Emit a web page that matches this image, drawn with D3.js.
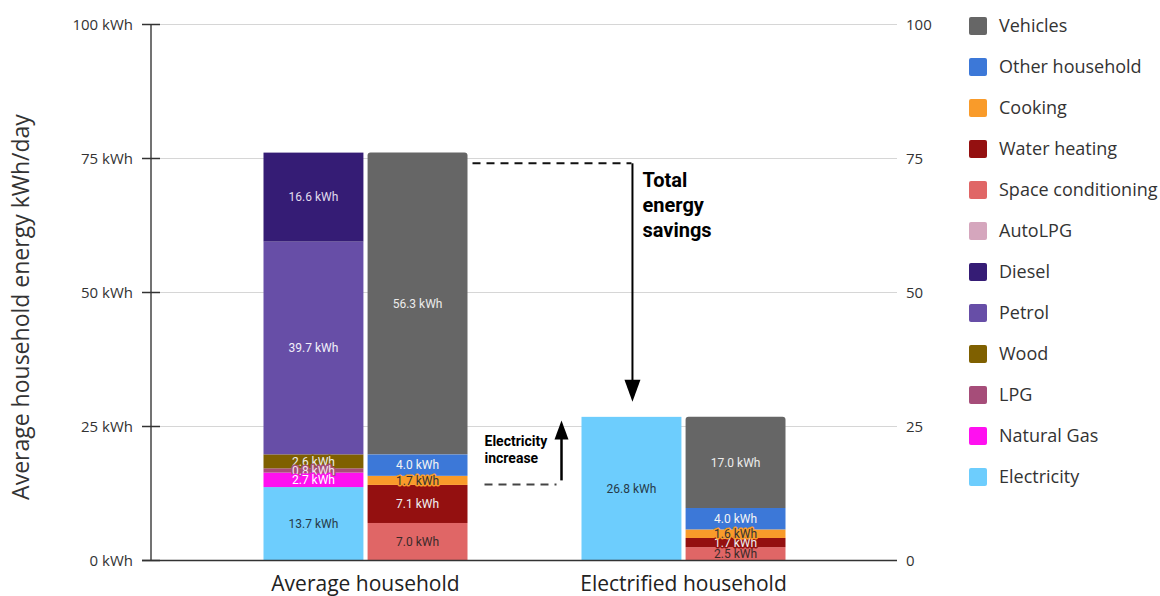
<!DOCTYPE html>
<html>
<head>
<meta charset="utf-8">
<script src="https://cdn.jsdelivr.net/npm/d3@7/dist/d3.min.js"></script>
<style>
  html, body { margin: 0; padding: 0; background: #fff; }
  svg { display: block; }
</style>
</head>
<body>
<svg id="chart" width="1160" height="596"></svg>
<script>
// ---------------- DATA ----------------
const categories = ["Average household", "Electrified household"];

// Fuel stack (bottom -> top)
const fuelSeries = ["Electricity", "Natural Gas", "LPG", "AutoLPG", "Wood", "Petrol", "Diesel"];
const fuelAverage = [13.7, 2.7, 0.8, 0.0, 2.6, 39.7, 16.6];
const fuelElectrified = [26.8, 0, 0, 0, 0, 0, 0];

// End-use stack (bottom -> top)
const useSeries = ["Space conditioning", "Water heating", "Cooking", "Other household", "Vehicles"];
const useAverage = [7.0, 7.1, 1.7, 4.0, 56.3];
const useElectrified = [2.5, 1.7, 1.6, 4.0, 17.0];

const legendOrder = ["Vehicles", "Other household", "Cooking", "Water heating", "Space conditioning",
  "AutoLPG", "Diesel", "Petrol", "Wood", "LPG", "Natural Gas", "Electricity"];

const yTicks = [0, 25, 50, 75, 100];
const leftTickLabels = ["0 kWh", "25 kWh", "50 kWh", "75 kWh", "100 kWh"];
const rightTickLabels = ["0", "25", "50", "75", "100"];
const yTitle = "Average household energy kWh/day";
const annotationTotal = ["Total", "energy", "savings"];
const annotationElec = ["Electricity", "increase"];

// ---------------- STYLE ----------------
const colors = {
  "Vehicles": "#666666",
  "Other household": "#3c78d8",
  "Cooking": "#f99b2a",
  "Water heating": "#941010",
  "Space conditioning": "#e06666",
  "AutoLPG": "#d5a6bd",
  "Diesel": "#351c75",
  "Petrol": "#674ea7",
  "Wood": "#7f6000",
  "LPG": "#a64d79",
  "Natural Gas": "#ff10f0",
  "Electricity": "#6dcdfd"
};
const textColors = {
  "Vehicles": "#ececec",
  "Other household": "#f4f4f4",
  "Cooking": "#333333",
  "Water heating": "#f0f0f0",
  "Space conditioning": "#3a2a2a",
  "AutoLPG": "#333333",
  "Diesel": "#e0dcef",
  "Petrol": "#f2f0fa",
  "Wood": "#eeeeee",
  "LPG": "#f2e6ee",
  "Natural Gas": "#ffffff",
  "Electricity": "#263a48"
};

const svg = d3.select("#chart");
const plotLeft = 151, plotRight = 897;

const y = d3.scaleLinear().domain([0, 100]).range([560.5, 24.5]);
const x = d3.scaleBand().domain(categories).range([206.5, 842.5]).padding(0);
const sub = d3.scaleBand().domain(["fuel", "use"]).range([-102, 102]).paddingInner(0.04).paddingOuter(0);

// gridlines
svg.append("g").selectAll("line").data(yTicks.filter(d => d > 0)).join("line")
  .attr("x1", plotLeft).attr("x2", plotRight)
  .attr("y1", d => y(d)).attr("y2", d => y(d))
  .attr("stroke", "#d6d6d6").attr("stroke-width", 1.2);

// Build stacks
function stackData(names, values) {
  let acc = 0;
  return names.map((n, i) => {
    const s = { name: n, value: values[i], y0: acc, y1: acc + values[i] };
    acc += values[i];
    return s;
  }).filter(d => d.value > 0);
}
const stacks = [];
categories.forEach((c, ci) => {
  const fv = ci === 0 ? fuelAverage : fuelElectrified;
  const uv = ci === 0 ? useAverage : useElectrified;
  stacks.push({ cat: c, kind: "fuel", segs: stackData(fuelSeries, fv) });
  stacks.push({ cat: c, kind: "use", segs: stackData(useSeries, uv) });
});

const barsG = svg.append("g");
const labelsG = svg.append("g");
stacks.forEach(st => {
  const x0 = x(st.cat) + x.bandwidth() / 2 + sub(st.kind);
  const bw = sub.bandwidth();
  const topSeg = st.segs[st.segs.length - 1];
  st.segs.forEach(s => {
    const yTop = y(s.y1), yBot = y(s.y0);
    if (s === topSeg && st.kind === "use") {
      const r = 3;
      const path = `M${x0},${yBot} L${x0},${yTop + r} Q${x0},${yTop} ${x0 + r},${yTop} L${x0 + bw - r},${yTop} Q${x0 + bw},${yTop} ${x0 + bw},${yTop + r} L${x0 + bw},${yBot} Z`;
      barsG.append("path").attr("d", path).attr("fill", colors[s.name]);
    } else {
      barsG.append("rect").attr("x", x0).attr("y", yTop)
        .attr("width", bw).attr("height", yBot - yTop)
        .attr("fill", colors[s.name]);
    }
  });
  // labels: fuel stacks drawn top->bottom, use stacks bottom->top
  const order = st.kind === "fuel" ? st.segs.slice().reverse() : st.segs.slice();
  order.forEach(s => {
    labelsG.append("text")
      .attr("x", x0 + bw / 2)
      .attr("y", (y(s.y0) + y(s.y1)) / 2)
      .attr("dy", "0.36em")
      .attr("text-anchor", "middle")
      .attr("font-family", "Roboto, sans-serif")
      .attr("font-size", 12)
      .attr("fill", textColors[s.name])
      .attr("stroke", colors[s.name])
      .attr("stroke-width", 3)
      .attr("stroke-linejoin", "round")
      .attr("paint-order", "stroke")
      .text(s.value.toFixed(1) + " kWh");
  });
});

// baseline
svg.append("line").attr("x1", 142).attr("x2", plotRight)
  .attr("y1", y(0)).attr("y2", y(0)).attr("stroke", "#333").attr("stroke-width", 1.5);

// left axis
const leftAxis = svg.append("g");
leftAxis.append("line").attr("x1", plotLeft).attr("x2", plotLeft)
  .attr("y1", y(100)).attr("y2", y(0)).attr("stroke", "#444").attr("stroke-width", 1.5);
leftAxis.selectAll(".tk").data(yTicks).join("line")
  .attr("x1", 142).attr("x2", 160)
  .attr("y1", d => y(d)).attr("y2", d => y(d))
  .attr("stroke", "#333").attr("stroke-width", 1.5);
leftAxis.selectAll("text").data(yTicks).join("text")
  .attr("x", 133).attr("y", d => y(d)).attr("dy", "0.35em")
  .attr("text-anchor", "end")
  .attr("font-family", "'Open Sans', sans-serif").attr("font-size", 15)
  .attr("fill", "#333")
  .text((d, i) => leftTickLabels[i]);

// right axis labels
svg.append("g").selectAll("text").data(yTicks).join("text")
  .attr("x", 906).attr("y", d => y(d)).attr("dy", "0.35em")
  .attr("text-anchor", "start")
  .attr("font-family", "'Open Sans', sans-serif").attr("font-size", 15)
  .attr("fill", "#333")
  .text((d, i) => rightTickLabels[i]);

// y title
svg.append("text")
  .attr("transform", `translate(29, 307) rotate(-90)`)
  .attr("text-anchor", "middle")
  .attr("font-family", "'Open Sans', sans-serif").attr("font-size", 23)
  .attr("fill", "#333")
  .text(yTitle);

// category labels
svg.append("g").selectAll("text").data(categories).join("text")
  .attr("x", d => x(d) + x.bandwidth() / 2)
  .attr("y", 591)
  .attr("text-anchor", "middle")
  .attr("font-family", "'Open Sans', sans-serif").attr("font-size", 21)
  .attr("fill", "#222")
  .text(d => d);

// legend
const lg = svg.append("g");
legendOrder.forEach((n, i) => {
  const cy = 26 + i * 41;
  lg.append("rect").attr("x", 969).attr("y", cy - 9).attr("width", 18).attr("height", 18)
    .attr("rx", 2).attr("fill", colors[n]);
  lg.append("text").attr("x", 999).attr("y", cy).attr("dy", "0.35em")
    .attr("font-family", "'Open Sans', sans-serif").attr("font-size", 18)
    .attr("fill", "#333").text(n);
});

// annotations
const ann = svg.append("g");
const leftUseRight = x(categories[0]) + x.bandwidth() / 2 + sub("use") + sub.bandwidth();
const rightFuelLeft = x(categories[1]) + x.bandwidth() / 2 + sub("fuel");
const rightFuelCenter = rightFuelLeft + sub.bandwidth() / 2;

// total energy savings
const yDashTop = y(74.1);
ann.append("line").attr("x1", leftUseRight + 5).attr("x2", rightFuelCenter)
  .attr("y1", yDashTop).attr("y2", yDashTop)
  .attr("stroke", "#111").attr("stroke-width", 2).attr("stroke-dasharray", "8,6");
const tip1 = y(29.6);
ann.append("line").attr("x1", rightFuelCenter + 1).attr("x2", rightFuelCenter + 1)
  .attr("y1", yDashTop).attr("y2", tip1 - 18)
  .attr("stroke", "#000").attr("stroke-width", 2);
ann.append("path")
  .attr("d", `M${rightFuelCenter + 1 - 8},${tip1 - 22} L${rightFuelCenter + 1 + 8},${tip1 - 22} L${rightFuelCenter + 1},${tip1} Z`)
  .attr("fill", "#000");
annotationTotal.forEach((t, i) => {
  ann.append("text").attr("x", rightFuelCenter + 11).attr("y", 187 + i * 25)
    .attr("font-family", "Roboto, sans-serif").attr("font-weight", "bold").attr("font-size", 20)
    .attr("fill", "#000").text(t);
});

// electricity increase
const yDashBot = y(14.2);
const arrowX = rightFuelLeft - 20;
ann.append("line").attr("x1", leftUseRight + 17).attr("x2", arrowX - 5)
  .attr("y1", yDashBot).attr("y2", yDashBot)
  .attr("stroke", "#444").attr("stroke-width", 2).attr("stroke-dasharray", "8,6");
const tip2 = y(26.1);
ann.append("line").attr("x1", arrowX).attr("x2", arrowX)
  .attr("y1", yDashBot - 4).attr("y2", tip2 + 14)
  .attr("stroke", "#000").attr("stroke-width", 2.5);
ann.append("path")
  .attr("d", `M${arrowX - 7},${tip2 + 19} L${arrowX + 7},${tip2 + 19} L${arrowX},${tip2} Z`)
  .attr("fill", "#000");
annotationElec.forEach((t, i) => {
  ann.append("text").attr("x", leftUseRight + 17).attr("y", 446 + i * 17)
    .attr("font-family", "Roboto, sans-serif").attr("font-weight", "bold").attr("font-size", 14)
    .attr("fill", "#000").text(t);
});
</script>
</body>
</html>
